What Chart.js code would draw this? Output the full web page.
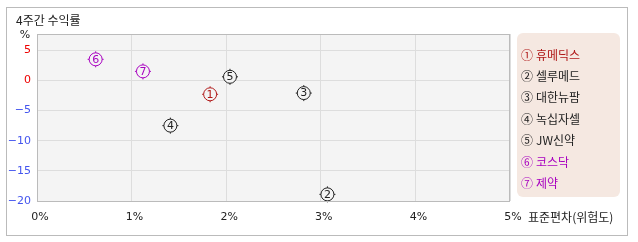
<!DOCTYPE html>
<html>
<head>
<meta charset="utf-8">
<script src="https://cdn.jsdelivr.net/npm/chart.js@4.4.0/dist/chart.umd.min.js"></script>
<style>
  html, body { margin: 0; padding: 0; background: #fff; }
  #wrap { width: 638px; height: 242px; }
</style>
</head>
<body>
<div id="wrap"><canvas id="myChart" width="638" height="242"></canvas></div>
<script>
// 데이터
const chartTitle = '4주간 수익률';
const xTitle = '표준편차(위험도)';
const yUnit = '%';
const names = ['휴메딕스', '셀루메드', '대한뉴팜', '녹십자셀', 'JW신약', '코스닥', '제약'];
const marks = ['①', '②', '③', '④', '⑤', '⑥', '⑦'];
const riskX = [1.83, 3.07, 2.82, 1.41, 2.04, 0.62, 1.12];
const returnY = [-2.3, -18.9, -2.1, -7.5, 0.6, 3.5, 1.5];
const xTicks = [0, 1, 2, 3, 4, 5];
const yTicks = [-20, -15, -10, -5, 0, 5];

// 색상
const colors = ['#b01818', '#222222', '#222222', '#222222', '#222222', '#a800c0', '#a800c0'];
const kFont = '"Noto Sans CJK KR", "Noto Sans", sans-serif';

const datasets = names.map((n, i) => ({
  label: n,
  data: [{ x: riskX[i], y: returnY[i] }],
  pointStyle: 'circle',
  pointRadius: 6.5,
  pointHoverRadius: 6.5,
  pointBorderWidth: 1,
  borderColor: colors[i],
  backgroundColor: '#f4f4f4',
  pointBackgroundColor: '#f4f4f4',
  pointBorderColor: colors[i]
}));

// 배경, 테두리, 제목, 범례
const decor = {
  id: 'decor',
  beforeDraw(chart) {
    const ctx = chart.ctx;
    const a = chart.chartArea;
    ctx.save();
    ctx.fillStyle = '#fff';
    ctx.fillRect(0, 0, chart.width, chart.height);
    ctx.strokeStyle = '#bbbbbb';
    ctx.lineWidth = 1;
    ctx.strokeRect(6.5, 7.5, 621, 228);
    ctx.fillStyle = '#f4f4f4';
    ctx.fillRect(a.left, a.top, a.right - a.left, a.bottom - a.top);
    ctx.restore();
  },
  afterDraw(chart) {
    const ctx = chart.ctx;
    const a = chart.chartArea;
    ctx.save();
    // 플롯 테두리
    ctx.strokeStyle = '#bbbbbb';
    ctx.lineWidth = 1;
    ctx.strokeRect(a.left + 0.5, a.top + 0.5, a.right - a.left - 1, a.bottom - a.top);

    ctx.textBaseline = 'middle';
    ctx.fillStyle = '#222';
    ctx.font = '12px ' + kFont;
    ctx.textAlign = 'left';
    ctx.fillText(chartTitle, 16, 20);
    ctx.fillText(xTitle, 528, 217);
    ctx.font = '11px "DejaVu Sans", sans-serif';
    ctx.textAlign = 'center';
    ctx.fillText(yUnit, 25, 35);

    // 범례 상자
    ctx.fillStyle = '#f5e8e1';
    ctx.beginPath();
    ctx.roundRect(517, 33, 103, 164, 6);
    ctx.fill();
    ctx.textAlign = 'left';
    ctx.font = '12px ' + kFont;
    names.forEach((n, i) => {
      const y = 55 + i * 21.4;
      ctx.fillStyle = colors[i];
      ctx.fillText(marks[i], 521, y);
      ctx.fillText(n, 536, y);
    });
    ctx.restore();
  },
  afterDatasetsDraw(chart) {
    const ctx = chart.ctx;
    ctx.save();
    chart.data.datasets.forEach((ds, i) => {
      const meta = chart.getDatasetMeta(i);
      meta.data.forEach(pt => {
        const c = colors[i];
        ctx.strokeStyle = c;
        ctx.lineWidth = 1;
        ctx.beginPath();
        ctx.moveTo(pt.x, pt.y - 6.5); ctx.lineTo(pt.x, pt.y - 8);
        ctx.moveTo(pt.x, pt.y + 6.5); ctx.lineTo(pt.x, pt.y + 8);
        ctx.moveTo(pt.x - 6.5, pt.y); ctx.lineTo(pt.x - 8, pt.y);
        ctx.moveTo(pt.x + 6.5, pt.y); ctx.lineTo(pt.x + 8, pt.y);
        ctx.stroke();
        ctx.fillStyle = c;
        ctx.font = '11px "DejaVu Sans", sans-serif';
        ctx.textAlign = 'center';
        ctx.textBaseline = 'middle';
        ctx.fillText(String(i + 1), pt.x, pt.y + 0.5);
      });
    });
    ctx.restore();
  }
};

new Chart(document.getElementById('myChart'), {
  type: 'scatter',
  data: { datasets },
  options: {
    responsive: false,
    animation: false,
    events: [],
    layout: { padding: { left: 0, top: 34, right: 128, bottom: 21 } },
    plugins: { legend: { display: false }, tooltip: { enabled: false } },
    scales: {
      x: {
        type: 'linear',
        min: 0,
        max: 5,
        afterBuildTicks: s => { s.ticks = xTicks.map(v => ({ value: v })); },
        afterFit: s => { s.height = 20; },
        grid: { color: '#dddddd', drawTicks: false },
        border: { display: false },
        ticks: {
          padding: 10,
          labelOffset: 3,
          maxRotation: 0,
          autoSkip: false,
          color: '#222',
          font: { size: 11, family: '"DejaVu Sans", sans-serif' },
          callback: v => v + '%'
        }
      },
      y: {
        type: 'linear',
        min: -20,
        max: 7.7,
        afterBuildTicks: s => { s.ticks = yTicks.map(v => ({ value: v })); },
        afterFit: s => { s.width = 37; },
        grid: { color: '#dddddd', drawTicks: false },
        border: { display: false },
        ticks: {
          padding: 6,
          autoSkip: false,
          color: c => c.tick.value >= 0 ? '#ee0000' : '#4455ee',
          font: { size: 11, family: '"DejaVu Sans", sans-serif' },
          callback: v => v === 0 ? '0' : String(v).replace('-', '\u2212')
        }
      }
    }
  },
  plugins: [decor]
});
</script>
</body>
</html>
